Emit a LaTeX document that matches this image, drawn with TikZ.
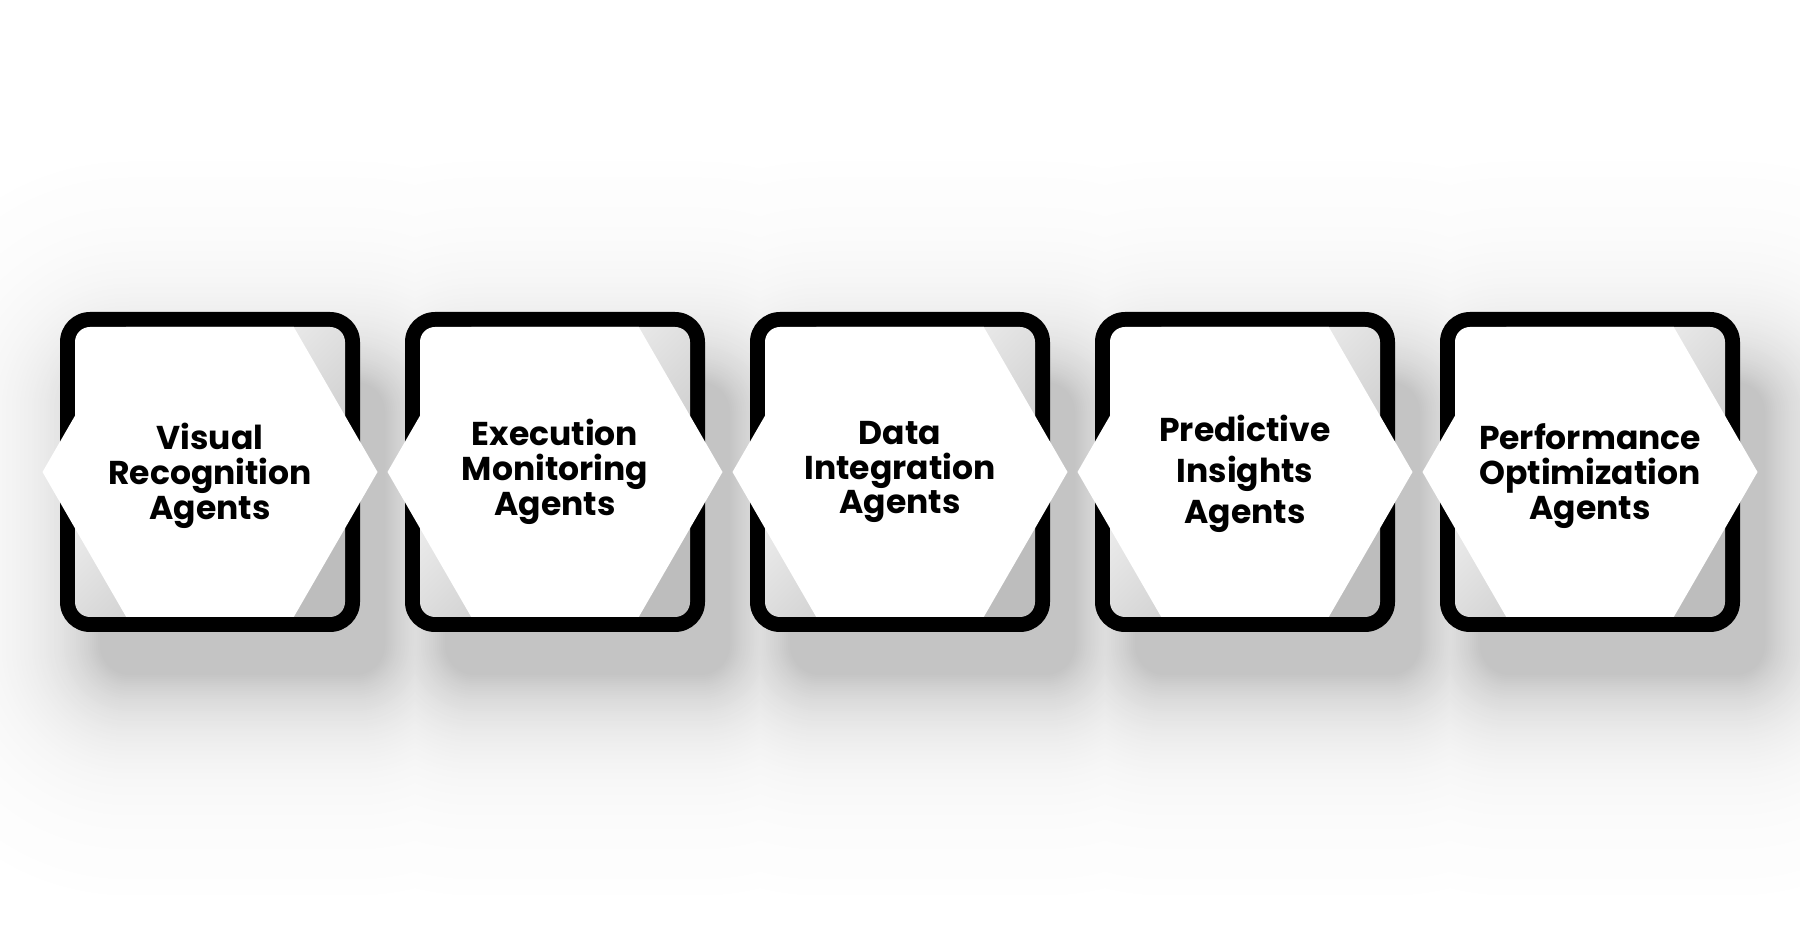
\documentclass[tikz,border=0pt]{standalone}
\usepackage{fontspec}
\setsansfont{Poppins}
\usepackage{tikz}
\usetikzlibrary{positioning}

\begin{document}
\begin{tikzpicture}[x=0.5pt, y=-0.5pt,
    frame/.style={fill=black, rounded corners=15pt},
    panel/.style={top color=white, bottom color=black!26, shading angle=45, rounded corners=7.5pt},
    hexa/.style={fill=white},
    agent/.style={align=center, text=black, inner sep=0pt,
        font=\sffamily\bfseries\fontsize{16.5}{17.4}\selectfont},
    agent wide/.style={agent, font=\sffamily\bfseries\fontsize{16.5}{20.5}\selectfont}
    ]
\useasboundingbox (0,0) rectangle (1800,945);
\fill[white] (0,0) rectangle (1800,945);

% soft shadow under every box, outer rings first
\foreach \e in {220,218,...,0} {
  \pgfmathsetmacro\rad{(\e+30)/2}
  \pgfmathsetmacro\tone{23*exp(-\e/55)}
  \foreach \cx in {210,555,900,1245,1590}
    \fill[black!\tone, rounded corners=\rad pt] (\cx-110-\e,382-\e) rectangle (\cx+175+\e,675+\e);
}

% boxes with the hexagon on top
\foreach \cx/\nm in {210/vis,555/exe,900/dat,1245/pre,1590/per} {
  \fill[frame] (\cx-150,312) rectangle (\cx+150,632);
  \shade[panel] (\cx-135,327) rectangle (\cx+135,617);
  \fill[hexa] (\cx-167.5,472) -- (\cx-83.75,327) -- (\cx+83.75,327)
    -- (\cx+167.5,472) -- (\cx+83.75,617) -- (\cx-83.75,617) -- cycle;
  \coordinate (\nm) at (\cx,472);
}

\node[agent] (vis-text) at ([yshift=-2pt]vis) {Visual\\Recognition\\Agents};
\node[agent] (exe-text) at (exe) {Execution\\Monitoring\\Agents};
\node[agent] (dat-text) at (dat) {Data\\Integration\\Agents};
\node[agent wide] (pre-text) at ([yshift=-1pt]pre) {Predictive\\Insights\\Agents};
\node[agent] (per-text) at ([yshift=-2pt]per) {Performance\\Optimization\\Agents};
\end{tikzpicture}
\end{document}
